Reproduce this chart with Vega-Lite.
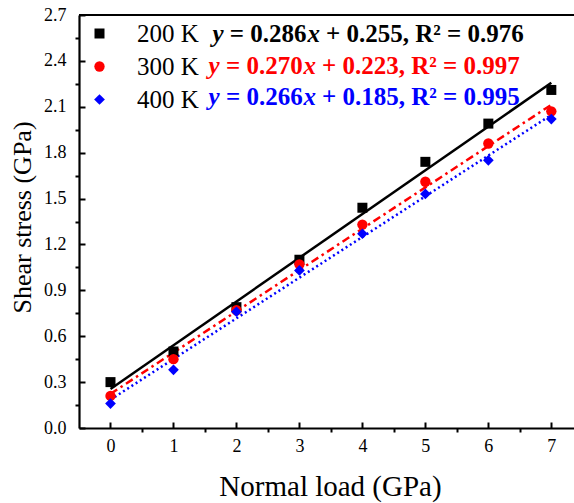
{
  "$schema": "https://vega.github.io/schema/vega-lite/v6.json",
  "width": 495,
  "height": 413,
  "autosize": "none",
  "padding": {"left": 79, "top": 15, "right": 0, "bottom": 75},
  "background": "white",
  "config": {
    "view": {"stroke": null},
    "font": "Liberation Serif",
    "axis": {
      "grid": false,
      "domainColor": "black",
      "domainWidth": 2.2,
      "tickColor": "black",
      "tickWidth": 2,
      "labelColor": "black",
      "labelFont": "Liberation Serif",
      "labelFontSize": 18,
      "titleFont": "Liberation Serif",
      "titleColor": "black",
      "titleFontWeight": "normal"
    },
    "legend": {
      "labelFont": "Liberation Serif",
      "labelFontSize": 25,
      "labelColor": "black"
    }
  },
  "datasets": {
    "points": [
      {"load": 0, "stress": 0.30, "series": "200 K"},
      {"load": 1, "stress": 0.50, "series": "200 K"},
      {"load": 2, "stress": 0.79, "series": "200 K"},
      {"load": 3, "stress": 1.10, "series": "200 K"},
      {"load": 4, "stress": 1.44, "series": "200 K"},
      {"load": 5, "stress": 1.74, "series": "200 K"},
      {"load": 6, "stress": 1.99, "series": "200 K"},
      {"load": 7, "stress": 2.21, "series": "200 K"},
      {"load": 0, "stress": 0.21, "series": "300 K"},
      {"load": 1, "stress": 0.45, "series": "300 K"},
      {"load": 2, "stress": 0.77, "series": "300 K"},
      {"load": 3, "stress": 1.07, "series": "300 K"},
      {"load": 4, "stress": 1.33, "series": "300 K"},
      {"load": 5, "stress": 1.61, "series": "300 K"},
      {"load": 6, "stress": 1.86, "series": "300 K"},
      {"load": 7, "stress": 2.07, "series": "300 K"},
      {"load": 0, "stress": 0.16, "series": "400 K"},
      {"load": 1, "stress": 0.38, "series": "400 K"},
      {"load": 2, "stress": 0.76, "series": "400 K"},
      {"load": 3, "stress": 1.03, "series": "400 K"},
      {"load": 4, "stress": 1.27, "series": "400 K"},
      {"load": 5, "stress": 1.53, "series": "400 K"},
      {"load": 6, "stress": 1.75, "series": "400 K"},
      {"load": 7, "stress": 2.02, "series": "400 K"}
    ],
    "fits": [
      {"load": 0, "stress": 0.255, "series": "200 K"},
      {"load": 7, "stress": 2.257, "series": "200 K"},
      {"load": 0, "stress": 0.223, "series": "300 K"},
      {"load": 7, "stress": 2.113, "series": "300 K"},
      {"load": 0, "stress": 0.185, "series": "400 K"},
      {"load": 7, "stress": 2.047, "series": "400 K"}
    ]
  },
  "resolve": {"axis": {"x": "independent", "y": "independent"}},
  "layer": [
    {
      "data": {"name": "fits"},
      "transform": [{"filter": "datum.series == '200 K'"}],
      "mark": {"type": "line", "color": "black", "strokeWidth": 2.5},
      "encoding": {
        "x": {"field": "load", "type": "quantitative",
              "scale": {"domain": [-0.5, 7.36], "nice": false, "zero": false},
              "axis": {"orient": "bottom", "values": [0.5, 1.5, 2.5, 3.5, 4.5, 5.5, 6.5], "labels": false, "domain": false, "tickSize": 4, "title": null}},
        "y": {"field": "stress", "type": "quantitative",
              "scale": {"domain": [0, 2.7], "nice": false, "zero": false},
              "axis": {"orient": "left", "values": [0.15, 0.45, 0.75, 1.05, 1.35, 1.65, 1.95, 2.25, 2.55], "labels": false, "domain": false, "tickSize": 4, "title": null}}
      }
    },
    {
      "data": {"name": "fits"},
      "transform": [{"filter": "datum.series == '300 K'"}],
      "mark": {"type": "line", "color": "#ff0000", "strokeWidth": 2.5, "strokeDash": [8, 4, 2.5, 4]},
      "encoding": {
        "x": {"field": "load", "type": "quantitative", "axis": null},
        "y": {"field": "stress", "type": "quantitative", "axis": null}
      }
    },
    {
      "data": {"name": "fits"},
      "transform": [{"filter": "datum.series == '400 K'"}],
      "mark": {"type": "line", "color": "#0000ff", "strokeWidth": 2.5, "strokeDash": [2, 3]},
      "encoding": {
        "x": {"field": "load", "type": "quantitative", "axis": null},
        "y": {"field": "stress", "type": "quantitative", "axis": null}
      }
    },
    {
      "data": {"name": "points"},
      "mark": {"type": "point", "filled": true, "opacity": 1},
      "encoding": {
        "x": {"field": "load", "type": "quantitative",
              "axis": {"orient": "bottom", "values": [0, 1, 2, 3, 4, 5, 6, 7], "tickSize": -6, "labelPadding": 15,
                       "title": "Normal load (GPa)", "titleFontSize": 29, "titleX": 251, "titleY": 67, "titleBaseline": "alphabetic", "titleAlign": "center", "titleAnchor": "start"}},
        "y": {"field": "stress", "type": "quantitative",
              "axis": {"orient": "left", "values": [0, 0.3, 0.6, 0.9, 1.2, 1.5, 1.8, 2.1, 2.4, 2.7], "format": ".1f", "tickSize": -6, "labelPadding": 19,
                       "title": "Shear stress (GPa)", "titleFontSize": 26, "titleX": -49, "titleY": 202, "titleBaseline": "alphabetic", "titleAlign": "center", "titleAngle": 270, "titleAnchor": "start"}},
        "size": {"field": "series", "type": "nominal",
                 "scale": {"domain": ["200 K", "300 K", "400 K"], "range": [100, 115, 260]},
                 "legend": null},
        "color": {"field": "series", "type": "nominal",
                  "scale": {"domain": ["200 K", "300 K", "400 K"], "range": ["#000000", "#ff0000", "#0000ff"]},
                  "legend": {"title": null, "orient": "none", "legendX": 8, "legendY": 6, "symbolSize": 120, "symbolStrokeWidth": 0, "labelOffset": 25, "rowPadding": 7, "padding": 0, "symbolOpacity": 1}},
        "shape": {"field": "series", "type": "nominal",
                  "scale": {"domain": ["200 K", "300 K", "400 K"], "range": ["square", "circle", "diamond"]},
                  "legend": {"title": null, "orient": "none", "legendX": 8, "legendY": 6, "symbolSize": 120, "symbolStrokeWidth": 0, "labelOffset": 25, "rowPadding": 7, "padding": 0, "symbolOpacity": 1}}
      }
    },
    {
      "data": {"values": [{}]},
      "mark": {"type": "rule", "color": "black", "strokeWidth": 2.2},
      "encoding": {"y": {"datum": 2.7, "axis": null}}
    },
    {
      "data": {"values": [{}]},
      "mark": {"type": "text", "text": "y", "font": "Liberation Serif", "fontSize": 25, "fontWeight": "bold", "fontStyle": "italic", "align": "left", "baseline": "alphabetic", "color": "black", "dx": 0},
      "encoding": {"x": {"datum": 1.619, "axis": null}, "y": {"datum": 2.524, "axis": null}}
    },
    {
      "data": {"values": [{}]},
      "mark": {"type": "text", "text": "= 0.286", "font": "Liberation Serif", "fontSize": 25, "fontWeight": "bold", "align": "left", "baseline": "alphabetic", "color": "black", "dx": 17.4},
      "encoding": {"x": {"datum": 1.619, "axis": null}, "y": {"datum": 2.524, "axis": null}}
    },
    {
      "data": {"values": [{}]},
      "mark": {"type": "text", "text": "x", "font": "Liberation Serif", "fontSize": 25, "fontWeight": "bold", "fontStyle": "italic", "align": "left", "baseline": "alphabetic", "color": "black", "dx": 95},
      "encoding": {"x": {"datum": 1.619, "axis": null}, "y": {"datum": 2.524, "axis": null}}
    },
    {
      "data": {"values": [{}]},
      "mark": {"type": "text", "text": "+ 0.255, R² = 0.976", "font": "Liberation Serif", "fontSize": 25, "fontWeight": "bold", "align": "left", "baseline": "alphabetic", "color": "black", "dx": 113.5},
      "encoding": {"x": {"datum": 1.619, "axis": null}, "y": {"datum": 2.524, "axis": null}}
    },
    {
      "data": {"values": [{}]},
      "mark": {"type": "text", "text": "y", "font": "Liberation Serif", "fontSize": 25, "fontWeight": "bold", "fontStyle": "italic", "align": "left", "baseline": "alphabetic", "color": "#ff0000", "dx": 0},
      "encoding": {"x": {"datum": 1.556, "axis": null}, "y": {"datum": 2.314, "axis": null}}
    },
    {
      "data": {"values": [{}]},
      "mark": {"type": "text", "text": "= 0.270", "font": "Liberation Serif", "fontSize": 25, "fontWeight": "bold", "align": "left", "baseline": "alphabetic", "color": "#ff0000", "dx": 17.4},
      "encoding": {"x": {"datum": 1.556, "axis": null}, "y": {"datum": 2.314, "axis": null}}
    },
    {
      "data": {"values": [{}]},
      "mark": {"type": "text", "text": "x", "font": "Liberation Serif", "fontSize": 25, "fontWeight": "bold", "fontStyle": "italic", "align": "left", "baseline": "alphabetic", "color": "#ff0000", "dx": 95},
      "encoding": {"x": {"datum": 1.556, "axis": null}, "y": {"datum": 2.314, "axis": null}}
    },
    {
      "data": {"values": [{}]},
      "mark": {"type": "text", "text": "+ 0.223, R² = 0.997", "font": "Liberation Serif", "fontSize": 25, "fontWeight": "bold", "align": "left", "baseline": "alphabetic", "color": "#ff0000", "dx": 113.5},
      "encoding": {"x": {"datum": 1.556, "axis": null}, "y": {"datum": 2.314, "axis": null}}
    },
    {
      "data": {"values": [{}]},
      "mark": {"type": "text", "text": "y", "font": "Liberation Serif", "fontSize": 25, "fontWeight": "bold", "fontStyle": "italic", "align": "left", "baseline": "alphabetic", "color": "#0000ff", "dx": 0},
      "encoding": {"x": {"datum": 1.556, "axis": null}, "y": {"datum": 2.112, "axis": null}}
    },
    {
      "data": {"values": [{}]},
      "mark": {"type": "text", "text": "= 0.266", "font": "Liberation Serif", "fontSize": 25, "fontWeight": "bold", "align": "left", "baseline": "alphabetic", "color": "#0000ff", "dx": 17.4},
      "encoding": {"x": {"datum": 1.556, "axis": null}, "y": {"datum": 2.112, "axis": null}}
    },
    {
      "data": {"values": [{}]},
      "mark": {"type": "text", "text": "x", "font": "Liberation Serif", "fontSize": 25, "fontWeight": "bold", "fontStyle": "italic", "align": "left", "baseline": "alphabetic", "color": "#0000ff", "dx": 95},
      "encoding": {"x": {"datum": 1.556, "axis": null}, "y": {"datum": 2.112, "axis": null}}
    },
    {
      "data": {"values": [{}]},
      "mark": {"type": "text", "text": "+ 0.185, R² = 0.995", "font": "Liberation Serif", "fontSize": 25, "fontWeight": "bold", "align": "left", "baseline": "alphabetic", "color": "#0000ff", "dx": 113.5},
      "encoding": {"x": {"datum": 1.556, "axis": null}, "y": {"datum": 2.112, "axis": null}}
    }
  ]
}
